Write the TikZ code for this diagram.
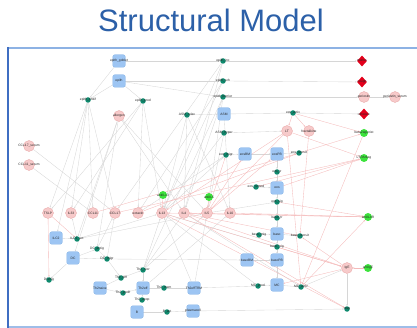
\documentclass[tikz,border=0pt]{standalone}
\usepackage{fontspec}
\setmainfont{Liberation Sans}
\usetikzlibrary{shapes.geometric,arrows.meta}
\pgfdeclarelayer{bg}
\pgfsetlayers{bg,main}
\definecolor{titleblue}{HTML}{2C60A8}
\definecolor{frameblue}{HTML}{3F6EC2}
\definecolor{framelight}{HTML}{8DB2E4}
\definecolor{boxfill}{HTML}{9DC5F3}
\definecolor{boxline}{HTML}{84B2E6}
\definecolor{tealc}{HTML}{0F8A6E}
\definecolor{pinkfill}{HTML}{F7CACA}
\definecolor{pinkline}{HTML}{E6A3A3}
\definecolor{greenc}{HTML}{3DE23D}
\definecolor{redc}{HTML}{E3001B}
\definecolor{edgegray}{HTML}{D6D6D6}
\definecolor{edgered}{HTML}{F4BABA}
\newcommand\mknode[5]{\node[#1,label={[lbl]center:#5}] (#2) at (#3,#4) {};}
\begin{document}
\begin{tikzpicture}[x=1pt,y=-1pt,
  lbl/.style={font=\fontsize{3.3}{3.6}\selectfont, text=black!85, inner sep=0pt},
  boxn/.style={draw=boxline, fill=boxfill, rounded corners=2pt, minimum size=12.5pt, inner sep=0pt, line width=0.3pt},
  tealn/.style={circle, fill=tealc, minimum size=5.5pt, inner sep=0pt},
  pinkn/.style={circle, draw=pinkline, fill=pinkfill, minimum size=11pt, inner sep=0pt, line width=0.3pt},
  greenn/.style={circle, fill=greenc, minimum size=8pt, inner sep=0pt},
  redn/.style={diamond, fill=redc, minimum width=10pt, minimum height=11pt, inner sep=0pt},
  ge/.style={draw=edgegray, line width=0.35pt, -{Stealth[length=1.8pt,width=1.4pt]}},
  re/.style={draw=edgered, line width=0.35pt, -{Stealth[length=1.8pt,width=1.4pt]}}]
\useasboundingbox (0,0) rectangle (417,328);
% title and frame
\node[font=\fontsize{31}{31}\selectfont, text=titleblue, anchor=base, inner sep=0pt] (title) at (211,32) {Structural Model};
\draw[framelight, line width=2pt] (8,48) -- (417,48);
\draw[framelight!85, line width=2pt] (8,326.5) -- (417,326.5);
\draw[frameblue, line width=2.6pt] (8,47) -- (8,327.6);
% boxes
\mknode{boxn}{bGob}{119}{61}{epith\_goblet}
\mknode{boxn}{bEpi}{119}{81}{epith}
\mknode{boxn}{bASM}{224}{114}{ASM}
\mknode{boxn}{bEosBM}{245}{154}{eosBM}
\mknode{boxn}{bEosPB}{277}{154}{eosPB}
\mknode{boxn}{bEos}{277}{188}{eos}
\mknode{boxn}{bBaso}{277}{234}{baso}
\mknode{boxn}{bBasoBM}{247}{260}{basoBM}
\mknode{boxn}{bBasoPB}{277}{260}{basoPB}
\mknode{boxn}{bMC}{277}{285}{MC}
\mknode{boxn}{bILC2}{56}{238}{ILC2}
\mknode{boxn}{bDC}{73}{258}{DC}
\mknode{boxn}{bTh2n}{100}{288}{Th2naive}
\mknode{boxn}{bTh2e}{143}{288}{Th2eff}
\mknode{boxn}{bTh2T}{194}{288}{Th2effTRM}
\mknode{boxn}{bB}{137}{312}{B}
\mknode{boxn}{bPC}{193}{311}{plasmacell}
% teal
\mknode{tealn}{tPro}{88}{100}{epith\_prolif}
\mknode{tealn}{tProd}{143}{101}{epith\_prod}
\mknode{tealn}{t1}{223}{61}{epith\_inc}
\mknode{tealn}{t2}{223}{81}{epith\_sch}
\mknode{tealn}{t3}{223}{97}{epith\_barrier}
\mknode{tealn}{tASMc}{187}{115}{ASM\_relax}
\mknode{tealn}{tASMh}{224}{133}{ASM\_hyper}
\mknode{tealn}{tEosAct}{293}{113}{eos\_activ}
\mknode{tealn}{tEosM}{226}{155}{eos\_migr}
\mknode{tealn}{tEosR}{299}{153}{eos\_recruit}
\mknode{tealn}{tEosRem}{256}{187}{eos\_remod}
\mknode{tealn}{tEosT}{277}{172}{eos\_tr}
\mknode{tealn}{tEosS}{277}{202}{eos\_sig}
\mknode{tealn}{tBasoT}{277}{218}{baso\_tr}
\mknode{tealn}{tBasoM}{259}{235}{baso\_mig}
\mknode{tealn}{tBasoR}{300}{236}{baso\_recruit}
\mknode{tealn}{tBasoS}{277}{247}{baso\_sig}
\mknode{tealn}{tMCa}{258}{286}{MC\_prod}
\mknode{tealn}{tMCb}{301}{287}{MC\_activ}
\mknode{tealn}{tEnd}{347}{309}{resp}
\mknode{tealn}{tILC2}{77}{239}{ILC2\_act}
\mknode{tealn}{tDCa}{97}{249}{DC\_antig}
\mknode{tealn}{tDCb}{107}{259}{DC\_migr}
\mknode{tealn}{tDCm}{49}{280}{DCmig}
\mknode{tealn}{tTh2a}{121}{278}{Th2\_diff}
\mknode{tealn}{tTh2b}{123}{293}{Th2\_prolif}
\mknode{tealn}{tTh2c}{143}{270}{Th2\_recr}
\mknode{tealn}{tTh2d}{164}{288}{Th2\_mem}
\mknode{tealn}{tTh2e}{142}{300}{Th2\_apop}
\mknode{tealn}{tB}{167}{312}{B\_act}
% pink
\mknode{pinkn}{pAll}{119}{116}{allergen}
\mknode{pinkn}{pLT}{287}{131}{LT}
\mknode{pinkn}{pFrac}{309}{131}{fractalkine}
\mknode{pinkn}{pPer}{364}{97}{periostin}
\mknode{pinkn}{pPerS}{395}{97}{periostin\_serum}
\mknode{pinkn}{pC17s}{29}{146}{CCL17\_serum}
\mknode{pinkn}{pC11s}{29}{165}{CCL11\_serum}
\mknode{pinkn}{pTSLP}{48}{213}{TSLP}
\mknode{pinkn}{pIL33}{71}{213}{IL33}
\mknode{pinkn}{pCCL11}{93}{213}{CCL11}
\mknode{pinkn}{pCCL17}{115}{213}{CCL17}
\mknode{pinkn}{pEot}{138}{213}{eotaxin}
\mknode{pinkn}{pIL13}{162}{213}{IL13}
\mknode{pinkn}{pIL4}{184}{213}{IL4}
\mknode{pinkn}{pIL5}{207}{213}{IL5}
\mknode{pinkn}{pIL10}{230}{213}{IL10}
\mknode{pinkn}{pIgE}{347}{268}{IgE}
% green
\mknode{greenn}{gB2}{364}{133}{beta2agonist}
\mknode{greenn}{gLTR}{364}{158}{LTRAntag}
\mknode{greenn}{gIL4R}{368}{217}{antiIL4R}
\mknode{greenn}{gIL13}{163}{195}{antiIL13}
\mknode{greenn}{gIL5}{209}{197}{antiIL5}
\mknode{greenn}{gIgE}{368}{268}{antiIgE}
% red diamonds
\mknode{redn}{d1}{362}{61}{mucus}
\mknode{redn}{d2}{362}{82}{cough}
\mknode{redn}{d3}{364}{114}{wheeze}
% edges
\begin{pgfonlayer}{bg}
\foreach \a/\b in {bGob/t1, t1/d1, bEpi/t2, t2/d2, bEpi/t3, t3/pPer, pPer/pPerS, bASM/tEosAct, tEosAct/d3,
  tASMc/bASM, tASMh/pLT, bEpi/tPro, bEpi/tProd, bGob/tPro,
  tPro/pTSLP, tPro/pIL33, tPro/pCCL11, tPro/pCCL17, tPro/bILC2, tProd/pEot, tProd/pIL13, tProd/pIL33, tProd/pTSLP,
  pAll/tDCa, pAll/tILC2, pAll/pIL4, pAll/bDC, pAll/pIL5,
  t1/pIL13, t1/pIL4, t1/pCCL17, t2/pIL13, t2/pEot, t3/pIL5, t3/pIL4, t3/tTh2c, tASMc/pIL13, tASMc/pIL4, tASMc/pIL10,
  tASMh/pIL13, tASMh/pIL5, bASM/pIL10,
  tEosM/bEosBM, bEosBM/bEosPB, bEosPB/tEosR, bEosPB/tEosT, tEosT/bEos, bEos/tEosS, tEosRem/bEos, tEosS/tBasoT,
  tBasoT/bBaso, tBasoM/bBaso, bBaso/tBasoR, bBaso/tBasoS, tBasoS/bBasoPB, bBasoBM/bBasoPB, bBasoPB/bMC, bMC/tMCb,
  tMCa/bMC, tMCb/pIgE, pIgE/tEnd, bPC/tEnd, bB/tB, tB/bPC,
  bTh2n/tTh2b, tTh2b/bTh2e, bTh2e/tTh2d, tTh2d/bTh2T, tTh2c/bTh2e, tTh2e/bTh2e, tTh2a/tTh2c, bILC2/tILC2,
  tILC2/pIL5, tILC2/pIL13, bDC/tDCa, tDCa/tDCb, bDC/tDCb, bDC/tDCm, tDCb/tTh2a, tTh2a/bTh2n,
  tTh2c/pIL4, tTh2c/pIL5, tTh2c/pIL13, bTh2T/pIL5, bTh2T/pIL13, bTh2e/pIL10, tMCa/pIL13, tMCb/pIL4, tEosM/pIL13,
  tDCb/pCCL17, tDCa/pCCL17, tILC2/pIL33, pC17s/pCCL17, pC11s/pCCL11, pIL13/tBasoS, pIL5/tEosS, pEot/tEosM,
  bTh2T/tMCa, tDCb/bBasoBM}
  \draw[ge] (\a) -- (\b);
\foreach \a/\b in {pIL5/tEosM, pIL5/bEosBM, pIL5/bEosPB, pEot/tEosR, pCCL11/tEosR, pIL13/pIgE, pIL4/pIgE, pIL4/tBasoR,
  pLT/gLTR, tEosAct/gB2, tEosAct/pLT, tEosAct/pFrac, gIL4R/pIL4, gIL4R/pIL13, gIL13/pIL13, gIL5/pIL5, gLTR/tEosRem,
  pTSLP/tDCm, pTSLP/tILC2, pIgE/tBasoR, pIgE/bMC, gIgE/pIgE, pLT/tMCb, pFrac/tBasoR, pIL10/gIL4R, tEosS/gIL4R,
  bEos/gLTR, tEosR/gB2, tBasoS/pIgE, tMCb/gIL4R, pIL13/tEnd, pIL4/tEnd, pCCL17/gLTR, gB2/tMCb, pLT/pIL13, pLT/pIL5}
  \draw[re] (\a) -- (\b);
\end{pgfonlayer}
\end{tikzpicture}
\end{document}
